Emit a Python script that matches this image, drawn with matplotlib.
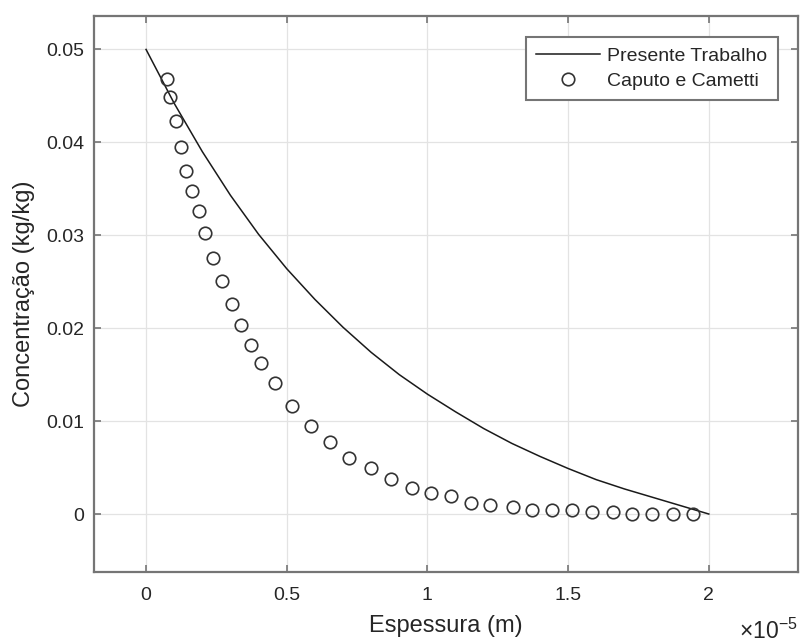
import numpy as np
import matplotlib.pyplot as plt

plt.rcParams['font.family'] = ['Liberation Sans', 'DejaVu Sans']
plt.rcParams['mathtext.fontset'] = 'custom'
plt.rcParams['mathtext.rm'] = 'Liberation Sans'
plt.rcParams['mathtext.it'] = 'Liberation Sans:italic'

# espessura em unidades de 1e-5 m
espessuraModelo = [0.0, 0.1, 0.2, 0.3, 0.4, 0.5, 0.6, 0.7, 0.8, 0.9, 1.0,
                   1.1, 1.2, 1.3, 1.4, 1.5, 1.6, 1.7, 1.8, 1.9, 2.0]
concModelo = [0.0500, 0.0442, 0.0390, 0.0343, 0.0301, 0.0264, 0.0231, 0.0201,
              0.0174, 0.0150, 0.0129, 0.0110, 0.0092, 0.0076, 0.0062, 0.0049,
              0.0037, 0.0027, 0.0018, 0.0009, 0.0000]

# Caputo e Cametti
espessuraExp = [0.074, 0.085, 0.106, 0.125, 0.142, 0.165, 0.187, 0.211, 0.239,
                0.269, 0.304, 0.338, 0.374, 0.410, 0.458, 0.518, 0.585, 0.654,
                0.722, 0.798, 0.870, 0.944, 1.013, 1.083, 1.154, 1.222, 1.303,
                1.373, 1.442, 1.513, 1.584, 1.658, 1.726, 1.797, 1.872, 1.943]
concExp = [0.0468, 0.0449, 0.0423, 0.0395, 0.0369, 0.0348, 0.0326, 0.0302,
           0.0276, 0.0251, 0.0226, 0.0203, 0.0182, 0.0163, 0.0141, 0.0116,
           0.0095, 0.0077, 0.0060, 0.0049, 0.0038, 0.0028, 0.0023, 0.0019,
           0.0012, 0.0010, 0.0008, 0.0004, 0.0004, 0.0004, 0.0002, 0.0002,
           0.0000, 0.0000, 0.0000, 0.0000]

xTicks = [0, 0.5, 1, 1.5, 2]
xTickLabels = ["0", "0.5", "1", "1.5", "2"]
yTicks = [0, 0.01, 0.02, 0.03, 0.04, 0.05]
yTickLabels = ["0", "0.01", "0.02", "0.03", "0.04", "0.05"]

textColor = "#262626"
boxColor = "#757575"

fig = plt.figure(figsize=(8.01, 6.43), dpi=100)
ax = fig.add_axes([94 / 801, 1 - 572 / 643, 704 / 801, 556 / 643])

ax.plot(espessuraModelo, concModelo, color="#1a1a1a", linewidth=1.1,
        label="Presente Trabalho")
ax.plot(espessuraExp, concExp, linestyle="none", marker="o", markersize=9,
        markerfacecolor="none", markeredgecolor="#333333", markeredgewidth=1.2,
        label="Caputo e Cametti")

ax.set_xlim(-0.185, 2.317)
ax.set_ylim(-0.00624, 0.0536)
ax.set_xticks(xTicks)
ax.set_xticklabels(xTickLabels)
ax.set_yticks(yTicks)
ax.set_yticklabels(yTickLabels)

ax.grid(True, color="#e3e3e3", linewidth=0.9)
ax.set_axisbelow(True)
for spine in ax.spines.values():
    spine.set_color(boxColor)
    spine.set_linewidth(1.6)
ax.tick_params(direction="in", length=5, width=1.2, color=boxColor,
               top=True, right=True, labelsize=14, labelcolor=textColor)
ax.tick_params(axis="x", pad=11)
ax.tick_params(axis="y", pad=7)

ax.set_xlabel("Espessura (m)", fontsize=17, color=textColor, labelpad=8)
ax.set_ylabel("Concentração (kg/kg)", fontsize=17, color=textColor, labelpad=8)

fig.text(798 / 801, 1 - 639 / 643, r"$\times10^{-5}$", ha="right",
         va="baseline", fontsize=16.5, color=textColor)

leg = ax.legend(loc="upper right", bbox_to_anchor=(1 - 20 / 704, 1 - 21 / 556),
                borderaxespad=0, fontsize=14, handlelength=3.3,
                handletextpad=0.35, labelspacing=0.35, borderpad=0.55,
                fancybox=False, framealpha=1, edgecolor=boxColor)
leg.get_frame().set_linewidth(1.5)
for t in leg.get_texts():
    t.set_color(textColor)

fig.savefig("out.png", dpi=100)
